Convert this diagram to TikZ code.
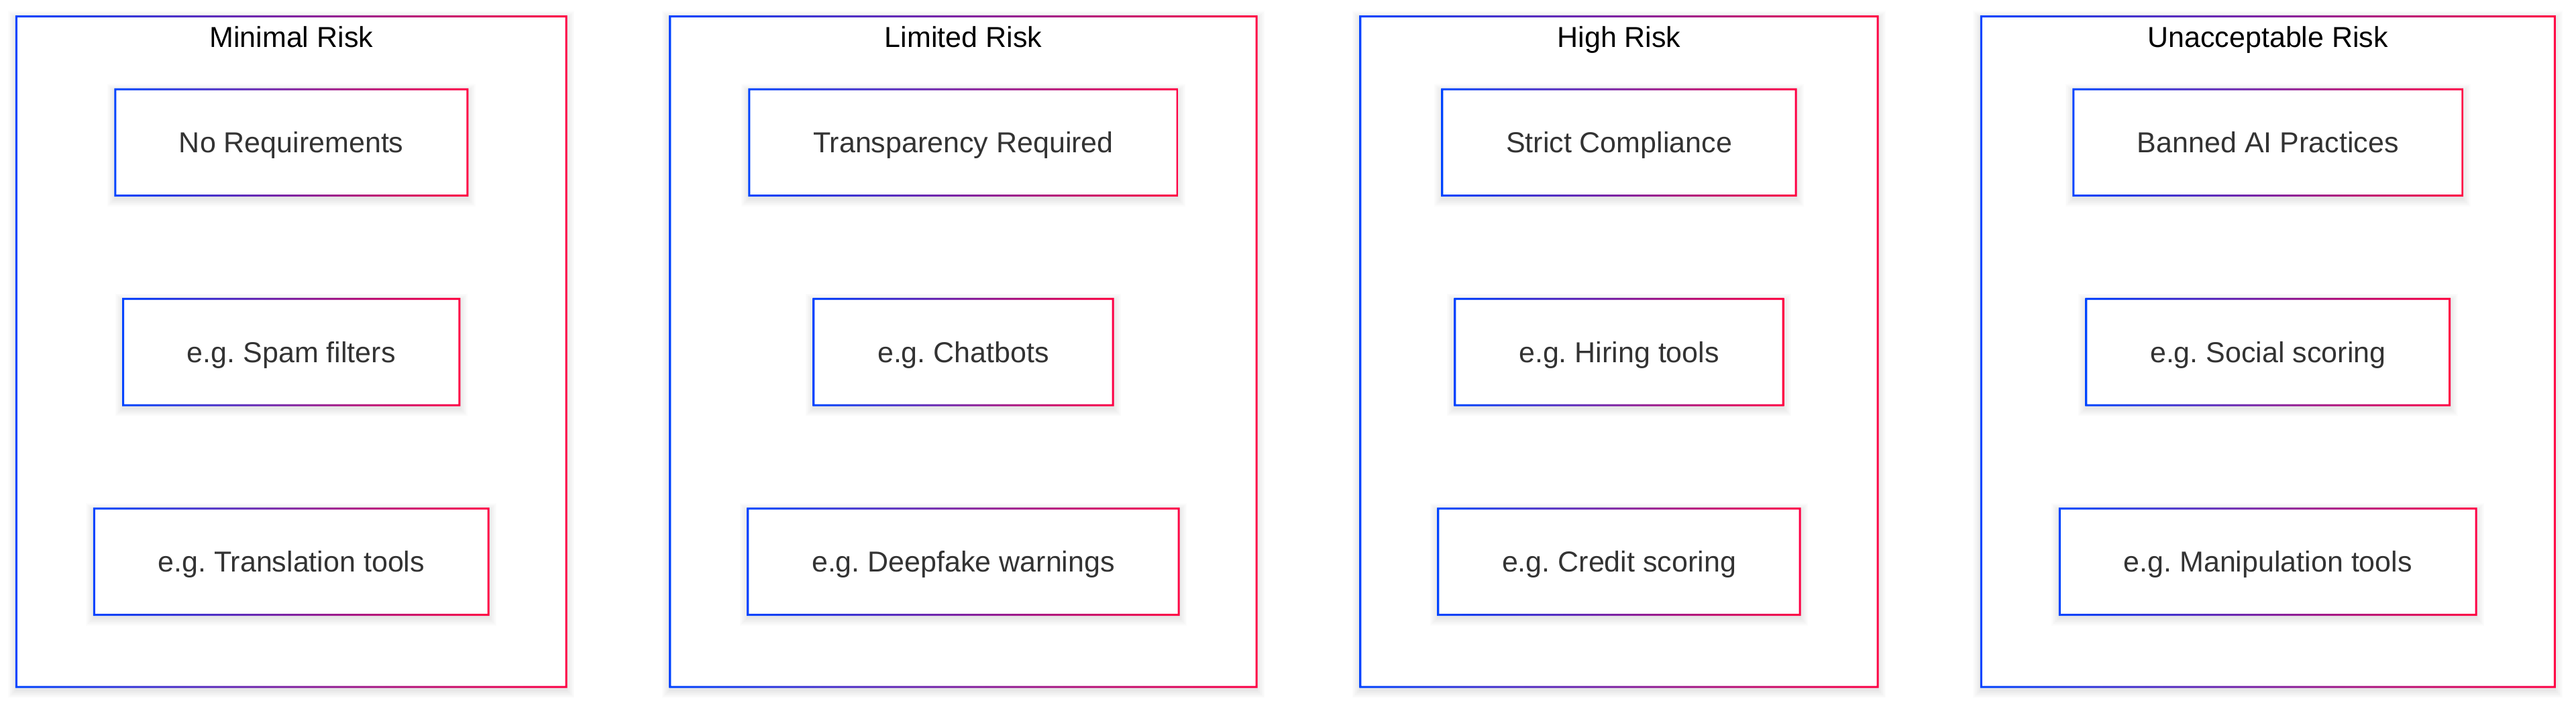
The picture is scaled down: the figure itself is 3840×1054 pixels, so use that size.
\documentclass[tikz,border=0pt]{standalone}
\usepackage{fontspec}
\setmainfont{Liberation Sans}
\usetikzlibrary{calc}
\pgfdeclarelayer{contlayer}
\pgfdeclarelayer{boxlayer}
\pgfsetlayers{contlayer,boxlayer,main}
\definecolor{gL}{HTML}{0044FF}
\definecolor{gR}{HTML}{FF0044}
\definecolor{txt}{HTML}{333333}
\frenchspacing
\newcommand\gframe[1]{%
  \foreach \k in {1,...,8}{\fill[black,opacity=0.012] ($(#1.south west)+(-\k*1.5,4+\k*1.5)$) rectangle ($(#1.north east)+(\k*1.5,4-\k*1.5)$);}
  \fill[white] (#1.south west) rectangle (#1.north east);
  \shade[left color=gL,right color=gR,even odd rule]
    ($(#1.south west)+(-1.5,1.5)$) rectangle ($(#1.north east)+(1.5,-1.5)$)
    ($(#1.south west)+(1.5,-1.5)$) rectangle ($(#1.north east)+(-1.5,1.5)$);
}
\tikzset{
  contbox/.style={rectangle, inner sep=0pt, minimum height=999.5pt},
  ttl/.style={anchor=base, inner sep=0pt, text=black, font=\fontsize{43}{50}\selectfont},
  ibox/.style={rectangle, minimum height=158pt, inner xsep=95pt, inner ysep=0pt,
    text height=31pt, text depth=0pt, text=txt, font=\fontsize{43}{50}\selectfont\frenchspacing}
}
\begin{document}
\begin{tikzpicture}[x=1pt,y=-1pt]
\useasboundingbox (0,0) rectangle (3840,1054);
\begin{pgfonlayer}{contlayer}
  \fill[white] (0,0) rectangle (3840,1054);
\end{pgfonlayer}
% containers
\node[contbox, minimum width=819.5pt] (c1) at (434.25,524.25) {};
\node[contbox, minimum width=874pt] (c2) at (1436,524.25) {};
\node[contbox, minimum width=771pt] (c3) at (2413.5,524.25) {};
\node[contbox, minimum width=854.5pt] (c4) at (3380.75,524.25) {};
% titles
\node[ttl] (t1) at ($(c1.north)+(0,46.5)$) {Minimal Risk};
\node[ttl] (t2) at ($(c2.north)+(0,46.5)$) {Limited Risk};
\node[ttl] (t3) at ($(c3.north)+(0,46.5)$) {High Risk};
\node[ttl] (t4) at ($(c4.north)+(0,46.5)$) {Unacceptable Risk};
% boxes
\node[ibox] (b11) at ($(c1.north)+(0,188)$) {No Requirements};
\node[ibox] (b12) at ($(c1.north)+(0,500.5)$) {e.g. Spam filters};
\node[ibox] (b13) at ($(c1.north)+(0,813)$) {e.g. Translation tools};
\node[ibox] (b21) at ($(c2.north)+(0,188)$) {Transparency Required};
\node[ibox] (b22) at ($(c2.north)+(0,500.5)$) {e.g. Chatbots};
\node[ibox] (b23) at ($(c2.north)+(0,813)$) {e.g. Deepfake warnings};
\node[ibox] (b31) at ($(c3.north)+(0,188)$) {Strict Compliance};
\node[ibox] (b32) at ($(c3.north)+(0,500.5)$) {e.g. Hiring tools};
\node[ibox] (b33) at ($(c3.north)+(0,813)$) {e.g. Credit scoring};
\node[ibox] (b41) at ($(c4.north)+(0,188)$) {Banned AI Practices};
\node[ibox] (b42) at ($(c4.north)+(0,500.5)$) {e.g. Social scoring};
\node[ibox] (b43) at ($(c4.north)+(0,813)$) {e.g. Manipulation tools};
\begin{pgfonlayer}{contlayer}
  \gframe{c1}\gframe{c2}\gframe{c3}\gframe{c4}
\end{pgfonlayer}
\begin{pgfonlayer}{boxlayer}
  \gframe{b11}\gframe{b12}\gframe{b13}
  \gframe{b21}\gframe{b22}\gframe{b23}
  \gframe{b31}\gframe{b32}\gframe{b33}
  \gframe{b41}\gframe{b42}\gframe{b43}
\end{pgfonlayer}
\end{tikzpicture}
\end{document}
